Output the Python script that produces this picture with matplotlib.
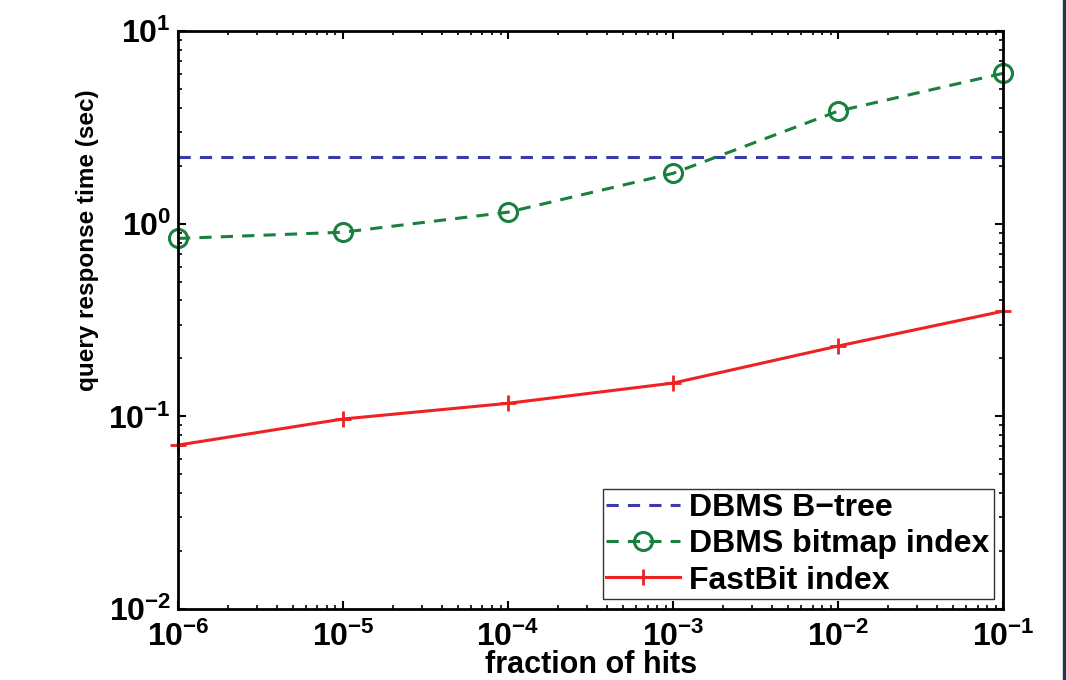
import matplotlib
matplotlib.use("Agg")
import matplotlib.pyplot as plt
from matplotlib.patches import Rectangle
from matplotlib.ticker import LogLocator, NullFormatter

plt.rcParams['font.family'] = ['Liberation Sans', 'DejaVu Sans']
plt.rcParams['font.weight'] = 'bold'
plt.rcParams['mathtext.fontset'] = 'custom'
plt.rcParams['mathtext.rm'] = 'Liberation Sans:bold'
plt.rcParams['mathtext.default'] = 'rm'

fraction_of_hits = [1e-6, 1e-5, 1e-4, 1e-3, 1e-2, 1e-1]
btree_time = [2.22, 2.22, 2.22, 2.22, 2.22, 2.22]
bitmap_time = [0.84, 0.905, 1.15, 1.83, 3.85, 6.05]
fastbit_time = [0.071, 0.097, 0.117, 0.149, 0.232, 0.352]

fig = plt.figure(figsize=(10.66, 6.8), dpi=100)
ax = fig.add_axes([0.167, 0.1044, 0.774, 0.8496])

ax.plot(fraction_of_hits, btree_time, linestyle=(0, (4, 3)), color='#3a3aaa',
        linewidth=2.2, label='DBMS B\u2212tree')
ax.plot(fraction_of_hits, bitmap_time, linestyle=(0, (4, 3)), color='#1a8040',
        linewidth=2.2, marker='o', markersize=13, markerfacecolor='none',
        markeredgewidth=2.2, label='DBMS bitmap index', clip_on=False)
ax.plot(fraction_of_hits, fastbit_time, linestyle='-', color='#ee2222',
        linewidth=2.2, marker='+', markersize=11, markeredgewidth=2.0,
        label='FastBit index', clip_on=False)

ax.set_xscale('log')
ax.set_yscale('log')
ax.set_xlim(1e-6, 1e-1)
ax.set_ylim(1e-2, 1e1)

ax.xaxis.set_major_locator(LogLocator(base=10, numticks=10))
ax.yaxis.set_major_locator(LogLocator(base=10, numticks=10))
ax.xaxis.set_minor_locator(LogLocator(base=10, subs=range(2, 10), numticks=20))
ax.yaxis.set_minor_locator(LogLocator(base=10, subs=range(2, 10), numticks=20))
ax.xaxis.set_minor_formatter(NullFormatter())
ax.yaxis.set_minor_formatter(NullFormatter())

ax.tick_params(which='both', direction='in', top=True, right=True)
ax.tick_params(which='major', length=6, width=1.5, labelsize=23)
ax.tick_params(axis='x', which='major', pad=9)
ax.tick_params(axis='y', which='major', pad=5)
ax.tick_params(which='minor', length=3, width=1.2)
for s in ax.spines.values():
    s.set_linewidth(2.0)

ax.set_xlabel('fraction of hits', fontsize=22, fontweight='bold')
ax.xaxis.set_label_coords(0.5, -0.1226)
ax.xaxis.label.set_va('bottom')
ax.set_ylabel('query response time (sec)', fontsize=17.5, fontweight='bold')
ax.yaxis.set_label_coords(-0.11, 0.638)
ax.yaxis.label.set_va('center')

leg = ax.legend(loc='lower right', fontsize=23, frameon=True, fancybox=False,
                edgecolor='black', handlelength=2.3, handletextpad=0.3,
                borderpad=0.12, labelspacing=0.2, borderaxespad=0.3)
leg.get_frame().set_linewidth(1.0)

fig.patches.append(Rectangle((1063 / 1066, 0), 3 / 1066, 1, transform=fig.transFigure,
                             color='#1e3a4a', zorder=10))

fig.savefig('out.png', dpi=100)
